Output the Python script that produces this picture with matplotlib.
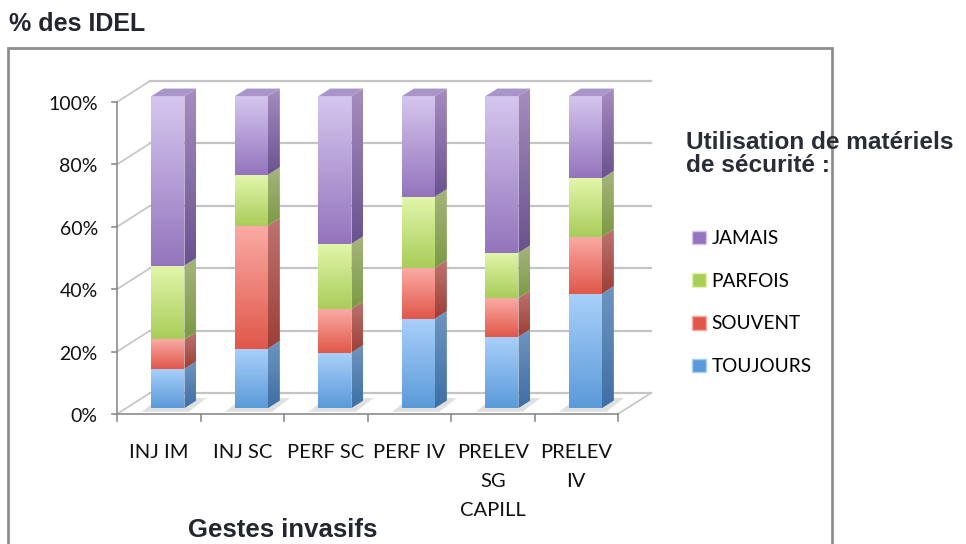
import numpy as np
import matplotlib.pyplot as plt
from matplotlib.patches import Polygon, Rectangle, Patch
from matplotlib.colors import LinearSegmentedColormap

# data (percent of IDEL)
categories = ["INJ IM", "INJ SC", "PERF SC", "PERF IV", "PRELEV\nSG\nCAPILL", "PRELEV\nIV"]
toujours = [12.6, 19.1, 17.8, 28.7, 22.9, 36.7]
souvent = [9.4, 39.4, 14.0, 16.3, 12.4, 18.3]
parfois = [23.7, 16.3, 20.9, 22.8, 14.5, 18.6]
jamais = [100 - a - b - c for a, b, c in zip(toujours, souvent, parfois)]
series_names = ["TOUJOURS", "SOUVENT", "PARFOIS", "JAMAIS"]
yticks = [0, 20, 40, 60, 80, 100]

# (front top, front bottom, side top, side bottom)
colors = {
    "TOUJOURS": ("#a9d0fa", "#5b9ad9", "#6f95c0", "#3e6fa5"),
    "SOUVENT": ("#faaaa4", "#e0584a", "#bd7470", "#9c3e36"),
    "PARFOIS": ("#e2f6ab", "#a9cd5a", "#a6b57c", "#7c9a45"),
    "JAMAIS": ("#d5c6ee", "#9475bd", "#a58dbf", "#6a5290"),
}
top_color = "#a995c9"

W, H = 966, 544
fig = plt.figure(figsize=(W / 100, H / 100), dpi=100)

# front plane of the 3D box in pixels: x 117..618 = categories -0.5..5.5, y 414..102 = 0..100 %
x0px, x1px, y0px, y1px = 117, 618, 414, 102
sx = (x1px - x0px) / 6
sy = (y0px - y1px) / 100
# axes box large enough to hold the depth part too
ax_l, ax_r, ax_t, ax_b = 40, 700, 60, 425
ax = fig.add_axes([ax_l / W, (H - ax_b) / H, (ax_r - ax_l) / W, (ax_b - ax_t) / H])
xlim = (-0.5 + (ax_l - x0px) / sx, -0.5 + (ax_r - x0px) / sx)
ylim = ((y0px - ax_b) / sy, (y0px - ax_t) / sy)
ax.axis("off")

# depth of the box, in data units
DX = 33 / sx
DY = 21 / sy
d0, d1 = 0.28, 0.64
bw = 0.395
n = len(categories)
grid_c = "#c4c4c4"
axis_c = "#8c8c8c"

# back wall gridlines and left wall diagonals
for t in yticks:
    ax.plot([-0.5 + DX, 5.5 + DX], [t + DY, t + DY], color=grid_c, lw=1.6, zorder=1)
    ax.plot([-0.5, -0.5 + DX], [t, t + DY], color=grid_c, lw=1.2, zorder=1)
    ax.plot([-0.56, -0.5], [t, t], color=axis_c, lw=1.2, zorder=1)
    ax.text(-0.73, t - 0.8, f"{t}%", ha="right", va="center", fontsize=14,
            family="Lato", color="#111111")
# floor
ax.plot([5.5, 5.5 + DX], [0, DY], color=grid_c, lw=1.2, zorder=1)
ax.plot([-0.5, 5.5], [0, 0], color=axis_c, lw=1.2, zorder=1)
ax.plot([-0.5, -0.5], [0, 100], color=axis_c, lw=1.2, zorder=1)
for k in range(n + 1):
    ax.plot([k - 0.5, k - 0.5], [0, -2.2], color=axis_c, lw=1.2, zorder=1)


def grad_fill(patch, c_top, c_bot, extent, z):
    cmap = LinearSegmentedColormap.from_list("g", [c_bot, c_top])
    im = ax.imshow(np.linspace(0, 1, 64).reshape(-1, 1), cmap=cmap, extent=extent,
                   origin="lower", aspect="auto", zorder=z)
    im.set_clip_path(patch)


vals = [toujours, souvent, parfois, jamais]
for i in range(n):
    bottom = 0
    xl = i - bw / 2 + d0 * DX
    xr = xl + bw
    sdx, sdy = (d1 - d0) * DX, (d1 - d0) * DY
    # soft shadow on the floor
    ax.add_patch(Polygon([(xl - 0.12, d0 * DY - 1.2), (xr + 0.05, d0 * DY - 1.2),
                          (xr + sdx + 0.12, d0 * DY + sdy + 0.8), (xl + sdx - 0.05, d0 * DY + sdy + 0.8)],
                         closed=True, facecolor="#d9d9d9", edgecolor="none", alpha=0.8, zorder=2))
    for s, name in enumerate(series_names):
        v = vals[s][i]
        yb = bottom + d0 * DY
        yt = yb + v
        ctop, cbot, stop, sbot = colors[name]
        front = Rectangle((xl, yb), bw, v, facecolor="none", edgecolor="none", zorder=3)
        ax.add_patch(front)
        grad_fill(front, ctop, cbot, [xl, xr, yb, yt], 3)
        side = Polygon([(xr, yb), (xr + sdx, yb + sdy), (xr + sdx, yt + sdy), (xr, yt)],
                       closed=True, facecolor="none", edgecolor="none", zorder=3)
        ax.add_patch(side)
        grad_fill(side, stop, sbot, [xr, xr + sdx, yb, yt + sdy], 3)
        if s == len(series_names) - 1:
            ax.add_patch(Polygon([(xl, yt), (xr, yt), (xr + sdx, yt + sdy), (xl + sdx, yt + sdy)],
                                 closed=True, facecolor=top_color, edgecolor="none", zorder=4))
        bottom += v

# category labels
for i, c in enumerate(categories):
    ax.text(i, -9.5, c, ha="center", va="top", fontsize=14.5, family="Lato",
            color="#111111", linespacing=1.86)

ax.set_xlim(*xlim)
ax.set_ylim(*ylim)

# outer chart border
fig.patches.append(Rectangle((8 / W, -0.1), (832 - 8) / W, 1.1 - 48 / H, transform=fig.transFigure,
                             facecolor="none", edgecolor="#8e8e8e", lw=2, zorder=0))

fig.text(9 / W, 1 - 24 / H, "% des IDEL", fontsize=18, fontweight="bold",
         family="Liberation Sans", color="#23252f", va="center")
fig.text(283 / W, 1 - 530 / H, "Gestes invasifs", fontsize=18.5, fontweight="bold",
         family="Liberation Sans", color="#23252f", va="center", ha="center")
fig.text(686 / W, 1 - 154 / H, "Utilisation de matériels\nde sécurité :", fontsize=17.6,
         fontweight="bold", family="Liberation Sans", color="#2a2d38", va="center",
         linespacing=0.98, zorder=5)

handles = [Patch(facecolor=colors[nm][1], edgecolor=colors[nm][0]) for nm in series_names[::-1]]
leg = fig.legend(handles, series_names[::-1], loc="upper left",
                 bbox_to_anchor=(692 / W, 1 - 230 / H), frameon=False,
                 prop={"family": "Lato", "size": 13.7}, handlelength=0.72, handleheight=0.72,
                 handletextpad=0.3, labelspacing=1.35, borderaxespad=0, borderpad=0)

plt.savefig("out.png", dpi=100)
